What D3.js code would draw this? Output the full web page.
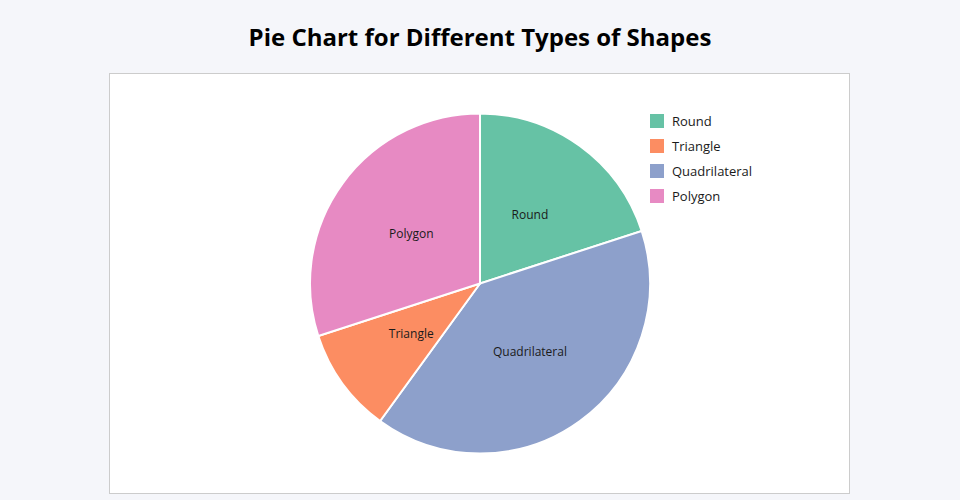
<!DOCTYPE html>
<html>
<head>
<meta charset="utf-8">
<script src="https://cdn.jsdelivr.net/npm/d3@7"></script>
<style>
  html, body { margin: 0; padding: 0; background: #f5f6fa; }
  svg { display: block; font-family: "Open Sans", sans-serif; }
</style>
</head>
<body>
<svg id="chart" width="960" height="500"></svg>
<script>
// Slice order as drawn clockwise from 12 o'clock
const sliceCategories = ["Round", "Quadrilateral", "Triangle", "Polygon"];
const sliceValues = [20, 40, 10, 30];
// Legend order
const legendCategories = ["Round", "Triangle", "Quadrilateral", "Polygon"];
const colors = ["#66c2a5", "#fc8d62", "#8da0cb", "#e78ac3"];
const title = "Pie Chart for Different Types of Shapes";

const svg = d3.select("#chart");
const W = 960, H = 500;

svg.append("rect").attr("width", W).attr("height", H).attr("fill", "#f5f6fa");

svg.append("text")
  .attr("x", 480).attr("y", 46)
  .attr("text-anchor", "middle")
  .attr("font-size", 24).attr("font-weight", 700).attr("fill", "#000")
  .text(title);

svg.append("rect")
  .attr("x", 109.5).attr("y", 73.5).attr("width", 740).attr("height", 420)
  .attr("fill", "#fff").attr("stroke", "#cccccc").attr("stroke-width", 1);

const color = d3.scaleOrdinal().domain(legendCategories).range(colors);

const data = sliceCategories.map((c, i) => ({ category: c, value: sliceValues[i] }));
const pie = d3.pie().sort(null).value(d => d.value);
const radius = 170;
const arc = d3.arc().innerRadius(0).outerRadius(radius);

const g = svg.append("g").attr("transform", "translate(480,283.5)");
const arcs = pie(data);

g.selectAll("path.slice").data(arcs).join("path")
  .attr("class", "slice")
  .attr("d", arc)
  .attr("fill", d => color(d.data.category))
  .attr("stroke", "#fff").attr("stroke-width", 2);

g.selectAll("text.lbl").data(arcs).join("text")
  .attr("class", "lbl")
  .attr("transform", d => `translate(${arc.centroid(d)})`)
  .attr("text-anchor", "middle")
  .attr("dy", "0.35em")
  .attr("font-size", 12).attr("fill", "#1a1a1a")
  .text(d => d.data.category);

const legend = svg.append("g").attr("transform", "translate(650,114)");
const items = legend.selectAll("g").data(legendCategories).join("g")
  .attr("transform", (d, i) => `translate(0,${i * 25})`);
items.append("rect").attr("width", 14).attr("height", 14).attr("fill", d => color(d));
items.append("text").attr("x", 22).attr("y", 7).attr("dy", "0.35em")
  .attr("font-size", 13).attr("fill", "#1a1a1a").text(d => d);
</script>
</body>
</html>
